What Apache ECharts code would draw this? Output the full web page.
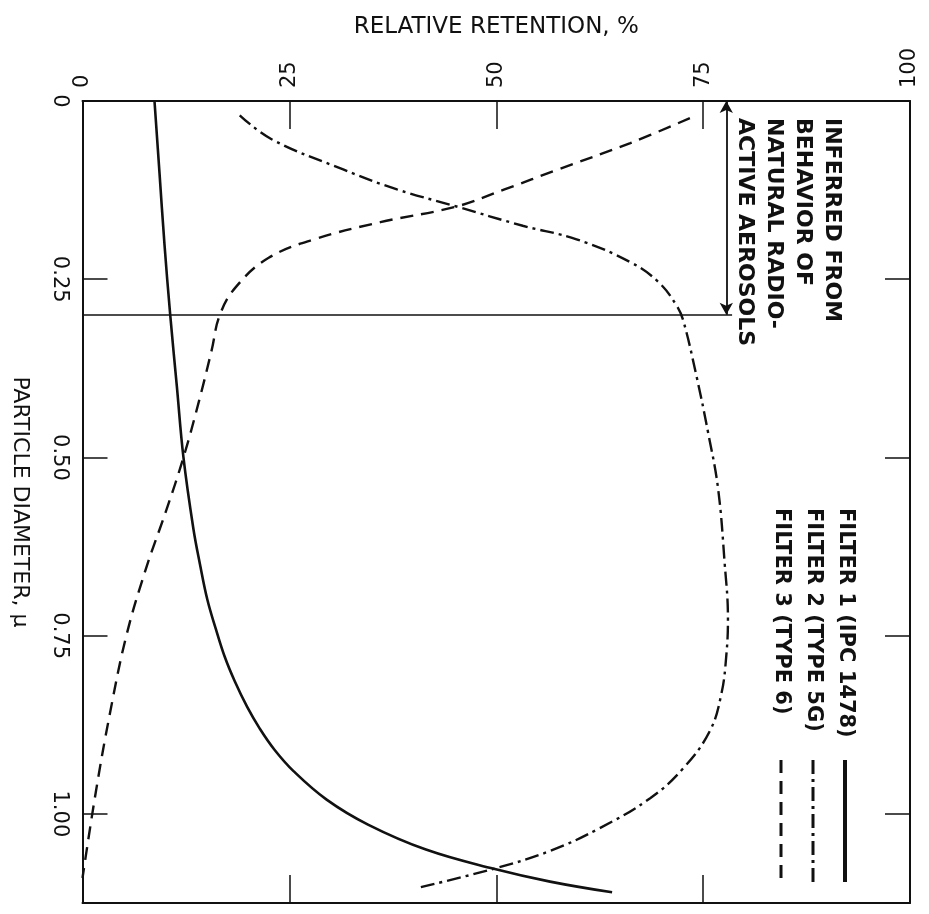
<!DOCTYPE html>
<html>
<head>
<meta charset="utf-8">
<script src="https://cdn.jsdelivr.net/npm/echarts@6/dist/echarts.min.js"></script>
<style>
  html, body { margin: 0; padding: 0; background: #ffffff; }
  #chart { width: 929px; height: 914px; }
</style>
</head>
<body>
<div id="chart"></div>
<script>
// ---- Data ----
const retentionTickLabels = ['0', '25', '50', '75', '100'];
const diameterTickLabels = ['0', '0.25', '0.50', '0.75', '1.00'];

const seriesNames = ['FILTER 1 (IPC 1478)', 'FILTER 2 (TYPE 5G)', 'FILTER 3 (TYPE 6)'];

// Filter 1 (solid): particle diameter (micron) and relative retention (%)
const filter1Diameter  = [0, 0.10, 0.20, 0.30, 0.40, 0.50, 0.60, 0.65, 0.70, 0.74, 0.78, 0.814, 0.85, 0.88, 0.91, 0.94, 0.98, 1.015, 1.05, 1.077, 1.095, 1.11];
const filter1Retention = [8.7, 9.3, 9.9, 10.6, 11.4, 12.2, 13.4, 14.2, 15.1, 16.1, 17.2, 18.4, 19.9, 21.4, 23.2, 25.5, 29.5, 34.5, 41.5, 49.7, 56.5, 64.0];

// Filter 2 (dash-dot)
const filter2Diameter  = [0.02, 0.054, 0.096, 0.124, 0.148, 0.175, 0.194, 0.226, 0.254, 0.287, 0.308, 0.386, 0.465, 0.543, 0.648, 0.726, 0.778, 0.832, 0.884, 0.936, 0.978, 1.02, 1.052, 1.077, 1.104];
const filter2Retention = [19.0, 22.9, 31.5, 38.0, 45.2, 53.2, 59.7, 66.2, 69.6, 71.8, 72.6, 74.2, 75.6, 76.8, 77.6, 78.0, 77.8, 77.2, 75.8, 72.6, 68.6, 62.5, 56.5, 49.7, 40.4];

// Filter 3 (dashed)
const filter3Diameter  = [0.024, 0.059, 0.096, 0.124, 0.148, 0.170, 0.194, 0.22, 0.26, 0.30, 0.35, 0.42, 0.50, 0.575, 0.655, 0.75, 0.86, 0.97, 1.09];
const filter3Retention = [73.4, 66.2, 57.5, 51.0, 45.2, 36.0, 28.0, 22.5, 18.6, 16.6, 15.6, 14.1, 12.2, 10.1, 7.7, 5.3, 3.3, 1.6, 0];

// "Inferred from behavior of natural radioactive aerosols" range
const aerosolDiameterRange = [0, 0.30];
const aerosolBoundaryRetention = [0, 78.5];
const aerosolArrowRetention = 77.8;

const annotationLines = ['INFERRED FROM', 'BEHAVIOR OF', 'NATURAL RADIO-', 'ACTIVE AEROSOLS'];

// ---- Chart ----
const INK = '#111111';
const FONT = '"DejaVu Sans", "Liberation Sans", sans-serif';

function pairs(d, r) { return d.map((v, i) => [r[i], v]); }

function diameterLabel(v) {
  const i = Math.round(v / 0.25);
  if (Math.abs(v - i * 0.25) < 1e-6 && i < diameterTickLabels.length) return diameterTickLabels[i];
  return '';
}
function retentionLabel(v) {
  const i = Math.round(v / 25);
  if (Math.abs(v - i * 25) < 1e-6 && i < retentionTickLabels.length) return retentionTickLabels[i];
  return '';
}

const chart = echarts.init(document.getElementById('chart'), null, { renderer: 'canvas' });

const axisCommonX = {
  type: 'value', min: 0, max: 100, interval: 25,
  axisLine: { show: true, onZero: false, lineStyle: { color: INK, width: 2 } },
  axisTick: { show: true, inside: true, length: 28, lineStyle: { color: INK, width: 1.5 } },
  splitLine: { show: false }
};
const axisCommonY = {
  type: 'value', min: 0, max: 1.125, interval: 0.25, inverse: true,
  axisLine: { show: true, onZero: false, lineStyle: { color: INK, width: 2 } },
  axisTick: { show: true, inside: true, length: 25, lineStyle: { color: INK, width: 1.5 } },
  splitLine: { show: false }
};

// legend & annotation graphics (rotated text, reads top to bottom)
const legendX = [845, 813, 781];
const legendDash = [null, [14, 5, 3, 5], [13, 8]];
const graphics = [];
seriesNames.forEach((name, i) => {
  graphics.push({
    type: 'text', x: legendX[i], y: 508, rotation: -Math.PI / 2,
    style: { text: name, fill: INK, font: 'bold 21px ' + FONT, align: 'left', verticalAlign: 'middle' }
  });
  graphics.push({
    type: 'line', shape: { x1: legendX[i], y1: 760, x2: legendX[i], y2: 882 },
    style: { stroke: INK, lineWidth: i === 0 ? 4 : 3, lineDash: legendDash[i] || null }
  });
});
const annX = [832, 803, 774, 745];
annotationLines.forEach((t, i) => {
  graphics.push({
    type: 'text', x: annX[i], y: 118, rotation: -Math.PI / 2,
    style: { text: t, fill: INK, font: 'bold 22px ' + FONT, align: 'left', verticalAlign: 'middle' }
  });
});

const lineCommon = { type: 'line', xAxisIndex: 0, yAxisIndex: 0, smooth: 0.4,
                     showSymbol: false, symbol: 'none' };

const option = {
  backgroundColor: '#ffffff',
  animation: false,
  grid: { left: 82.5, right: 19, top: 101, bottom: 11, containLabel: false },
  xAxis: [
    Object.assign({}, axisCommonX, {
      position: 'top',
      name: 'RELATIVE RETENTION, %',
      nameLocation: 'middle',
      nameGap: 62,
      nameTextStyle: { color: INK, fontSize: 23, fontFamily: FONT, fontWeight: 500 },
      axisLabel: { show: true, rotate: -90, margin: 13, color: INK, fontSize: 21, fontFamily: FONT,
                   showMinLabel: true, showMaxLabel: true, formatter: retentionLabel }
    }),
    Object.assign({}, axisCommonX, {
      position: 'bottom',
      axisLabel: { show: false }
    })
  ],
  yAxis: [
    Object.assign({}, axisCommonY, {
      position: 'left',
      name: 'PARTICLE DIAMETER, \u00b5',
      nameLocation: 'middle',
      nameRotate: -90,
      nameGap: 52,
      nameTextStyle: { color: INK, fontSize: 22, fontFamily: FONT },
      axisLabel: { show: true, rotate: -90, margin: 13, color: INK, fontSize: 21, fontFamily: FONT,
                   showMinLabel: true, showMaxLabel: true, formatter: diameterLabel }
    }),
    Object.assign({}, axisCommonY, {
      position: 'right',
      axisLabel: { show: false }
    })
  ],
  series: [
    Object.assign({}, lineCommon, {
      name: seriesNames[0],
      data: pairs(filter1Diameter, filter1Retention),
      lineStyle: { color: INK, width: 2.6, type: 'solid' }
    }),
    Object.assign({}, lineCommon, {
      name: seriesNames[1],
      data: pairs(filter2Diameter, filter2Retention),
      lineStyle: { color: INK, width: 2.4, type: [14, 5, 3, 5] }
    }),
    Object.assign({}, lineCommon, {
      name: seriesNames[2],
      data: pairs(filter3Diameter, filter3Retention),
      lineStyle: { color: INK, width: 2.4, type: [13, 8] }
    }),
    {
      name: 'aerosol boundary', type: 'line', xAxisIndex: 0, yAxisIndex: 0, data: [],
      markLine: {
        silent: true, symbol: ['none', 'none'], label: { show: false },
        lineStyle: { color: INK, width: 1.6, type: 'solid' },
        data: [[
          { coord: [aerosolBoundaryRetention[0], aerosolDiameterRange[1]] },
          { coord: [aerosolBoundaryRetention[1], aerosolDiameterRange[1]] }
        ]]
      }
    },
    {
      name: 'aerosol range arrow', type: 'line', xAxisIndex: 0, yAxisIndex: 0, data: [],
      markLine: {
        silent: true, symbol: ['arrow', 'arrow'], symbolSize: [10, 12], label: { show: false },
        lineStyle: { color: INK, width: 1.8, type: 'solid' },
        itemStyle: { color: INK },
        data: [[
          { coord: [aerosolArrowRetention, aerosolDiameterRange[0]] },
          { coord: [aerosolArrowRetention, aerosolDiameterRange[1]] }
        ]]
      }
    }
  ],
  graphic: graphics
};

chart.setOption(option);
</script>
</body>
</html>
